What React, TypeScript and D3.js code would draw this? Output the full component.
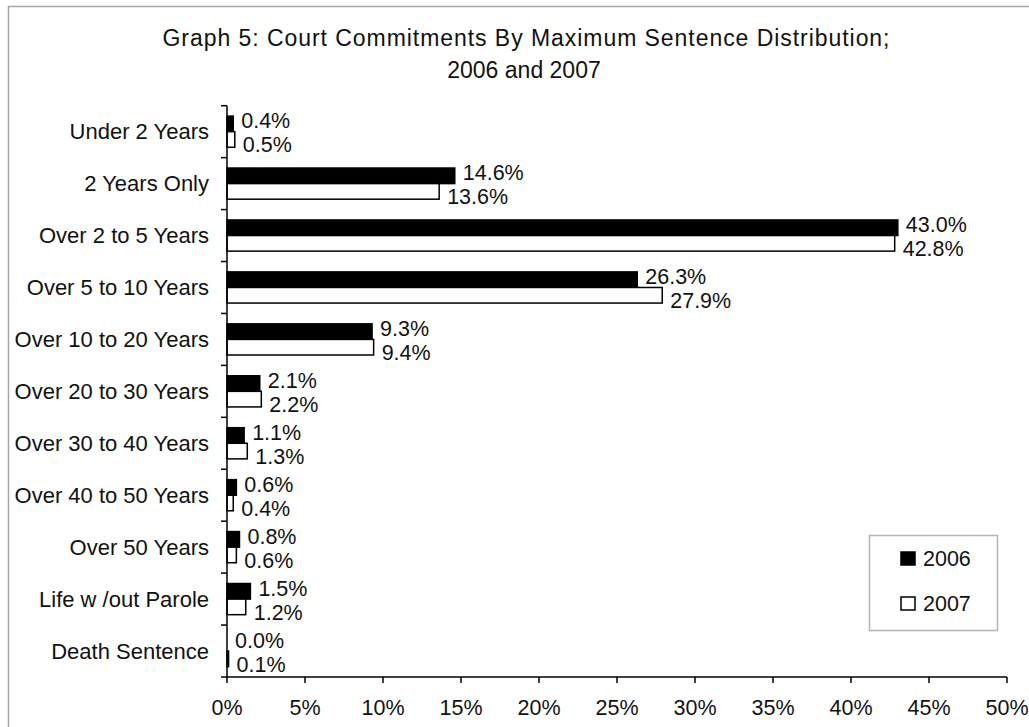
import * as d3 from 'd3';

const categories = [
  'Under 2 Years',
  '2 Years Only',
  'Over 2 to 5 Years',
  'Over 5 to 10 Years',
  'Over 10 to 20 Years',
  'Over 20 to 30 Years',
  'Over 30 to 40 Years',
  'Over 40 to 50 Years',
  'Over 50 Years',
  'Life w /out Parole',
  'Death Sentence',
];

const values2006 = [0.4, 14.6, 43.0, 26.3, 9.3, 2.1, 1.1, 0.6, 0.8, 1.5, 0.0];
const values2007 = [0.5, 13.6, 42.8, 27.9, 9.4, 2.2, 1.3, 0.4, 0.6, 1.2, 0.1];

const seriesNames = ['2006', '2007'];
const xTicks = [0, 5, 10, 15, 20, 25, 30, 35, 40, 45, 50];

const W = 1029;
const H = 727;
const PLOT = { left: 227, right: 1007, top: 105.7, bottom: 677 };
const FONT = '"Liberation Sans", Arial, sans-serif';

export default function App() {
  const x = d3.scaleLinear().domain([0, 50]).range([PLOT.left, PLOT.right]);
  const y = d3
    .scaleBand<string>()
    .domain(categories)
    .range([PLOT.top, PLOT.bottom])
    .paddingInner(0.4)
    .paddingOuter(0.2);
  const inner = d3.scaleBand<string>().domain(seriesNames).range([0, y.bandwidth()]);
  const step = y.step();

  const rows = categories.map((c, i) => ({
    cat: c,
    vals: [values2006[i], values2007[i]],
  }));

  // label nudges, the source labels sit above / below the pair
  const labelDy = [-11, 13];

  return (
    <div style={{ position: 'absolute', left: 0, top: 0 }}>
      <svg width={W} height={H} style={{ display: 'block', background: '#fff' }} fontFamily={FONT}>
        <rect x={8.5} y={6.5} width={W + 20} height={H + 20} fill="#fff" stroke="#a6a6a6" strokeWidth={1.5} />

        <text x={526} y={46} textAnchor="middle" fontSize={23} fill="#111" textLength={727} lengthAdjust="spacing">
          Graph 5: Court Commitments By Maximum Sentence Distribution;
        </text>
        <text x={524} y={78} textAnchor="middle" fontSize={23} fill="#111">
          2006 and 2007
        </text>

        {rows.map((r) => {
          const y0 = y(r.cat) as number;
          const cy = y0 + y.bandwidth() / 2;
          return (
            <g key={r.cat}>
              {r.vals.map((v, j) => {
                const by = y0 + (inner(seriesNames[j]) as number);
                const w = x(v) - x(0);
                return (
                  <rect
                    key={j}
                    x={x(0)}
                    y={by}
                    width={w}
                    height={inner.bandwidth()}
                    fill={j === 0 ? '#000' : '#fff'}
                    stroke={v > 0 ? '#000' : 'none'}
                    strokeWidth={1.5}
                  />
                );
              })}
              {r.vals.map((v, j) => (
                <text
                  key={'l' + j}
                  x={x(v) + 8}
                  y={cy + labelDy[j]}
                  dy="0.35em"
                  fontSize={21.5}
                  fill="#111"
                >
                  {v.toFixed(1) + '%'}
                </text>
              ))}
              <text x={209} y={cy} dy="0.35em" textAnchor="end" fontSize={22} fill="#111">
                {r.cat}
              </text>
            </g>
          );
        })}

        {/* y axis */}
        <line x1={PLOT.left} x2={PLOT.left} y1={PLOT.top} y2={PLOT.bottom} stroke="#000" strokeWidth={1.5} />
        {d3.range(categories.length + 1).map((i) => (
          <line
            key={'yt' + i}
            x1={PLOT.left - 6}
            x2={PLOT.left}
            y1={PLOT.top + i * step}
            y2={PLOT.top + i * step}
            stroke="#000"
            strokeWidth={1.5}
          />
        ))}

        {/* x axis */}
        <line x1={PLOT.left} x2={PLOT.right} y1={PLOT.bottom} y2={PLOT.bottom} stroke="#000" strokeWidth={1.5} />
        {xTicks.map((t) => (
          <g key={'xt' + t}>
            <line x1={x(t)} x2={x(t)} y1={PLOT.bottom} y2={PLOT.bottom + 6} stroke="#000" strokeWidth={1.5} />
            <text x={x(t)} y={715} textAnchor="middle" fontSize={21.5} fill="#111">
              {t + '%'}
            </text>
          </g>
        ))}

        {/* legend */}
        <rect x={869.5} y={535.5} width={128} height={95} fill="#fff" stroke="#b3b3b3" strokeWidth={1.5} />
        {seriesNames.map((s, i) => {
          const sy = 552 + i * 45;
          return (
            <g key={s}>
              <rect x={901} y={sy} width={14} height={13} fill={i === 0 ? '#000' : '#fff'} stroke="#000" strokeWidth={1.5} />
              <text x={923} y={sy + 6.5} dy="0.35em" fontSize={21.5} fill="#111">
                {s}
              </text>
            </g>
          );
        })}
      </svg>
    </div>
  );
}
